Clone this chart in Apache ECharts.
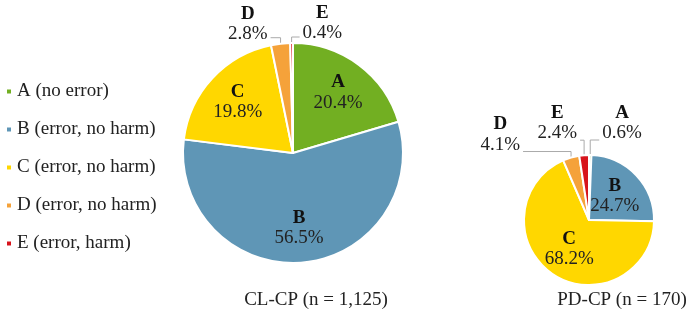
<!DOCTYPE html>
<html>
<head>
<meta charset="utf-8">
<script src="https://cdn.jsdelivr.net/npm/echarts@6/dist/echarts.min.js"></script>
<style>
  html, body { margin: 0; padding: 0; background: #fff; }
  #chart { width: 699px; height: 311px; }
</style>
</head>
<body>
<div id="chart"></div>
<script>
const categories = ['A (no error)', 'B (error, no harm)', 'C (error, no harm)', 'D (error, no harm)', 'E (error, harm)'];
const clcpValues = [20.4, 56.5, 19.8, 2.8, 0.4];
const pdcpValues = [0.6, 24.7, 68.2, 4.1, 2.4];
const colors = ['#72AF22', '#5F96B6', '#FFD700', '#F5A23A', '#D7141C'];
const titles = ['CL-CP (n = 1,125)', 'PD-CP (n = 170)'];

const font = 'Liberation Serif, Times New Roman, serif';

const centers = [[293, 153], [589, 220]];
const radii = [110, 65];
const insideScale = [1.3, 1.0];
// leader line shape for the small outside slices: [side, rise, run, text drop]
const leader = {
    '0-3': [-1, 6, 10, 6],
    '0-4': [1, 6, 8, 6],
    '1-0': [1, 15, 9, 3],
    '1-3': [-1, 6, 48, 3],
    '1-4': [-1, 15, 4, 3]
};

function buildData(values) {
    return values.map((v, i) => {
        const item = {name: categories[i], value: v};
        if (v < 5) {
            item.label = {position: 'outside'};
            item.labelLine = {show: true};
        }
        return item;
    });
}

function makeSeries(values, idx) {
    return {
        type: 'pie',
        center: centers[idx],
        radius: radii[idx],
        startAngle: 90,
        clockwise: true,
        avoidLabelOverlap: false,
        itemStyle: {borderColor: '#fff', borderWidth: 2},
        label: {
            show: true,
            position: 'inside',
            fontFamily: font,
            formatter: p => '{l|' + p.name.charAt(0) + '}\n{v|' + p.value.toFixed(1) + '%}',
            rich: {
                l: {fontFamily: font, fontSize: 19, fontWeight: 'bold', color: '#111', lineHeight: 20, align: 'center'},
                v: {fontFamily: font, fontSize: 19, color: '#222', lineHeight: 20, align: 'center'}
            }
        },
        labelLine: {show: false, length: 10, length2: 8, lineStyle: {color: '#aaa', width: 1}},
        labelLayout: params => {
            const c = centers[idx];
            const r = radii[idx];
            if (values[params.dataIndex] < 5) {
                const [side, rise, run, drop] = leader[idx + '-' + params.dataIndex];
                // point on the rim at the middle of the slice
                let acc = 0;
                for (let i = 0; i < params.dataIndex; i++) acc += values[i];
                const total = values.reduce((a, b) => a + b, 0);
                const ang = (acc + values[params.dataIndex] / 2) / total * Math.PI * 2;
                const p0 = [c[0] + r * Math.sin(ang), c[1] - r * Math.cos(ang)];
                const p1 = [p0[0], p0[1] - rise];
                const p2 = [p0[0] + side * run, p1[1]];
                return {
                    x: p2[0] + side * 3,
                    y: p2[1] + drop,
                    align: side < 0 ? 'right' : 'left',
                    verticalAlign: 'bottom',
                    labelLinePoints: [p0, p1, p2]
                };
            }
            const lr = params.labelRect;
            const lx = lr.x + lr.width / 2 - c[0];
            const ly = lr.y + lr.height / 2 - c[1];
            const k = insideScale[idx] - 1;
            return {dx: lx * k, dy: ly * k};
        },
        data: buildData(values)
    };
}

const chart = echarts.init(document.getElementById('chart'));
chart.setOption({
    animation: false,
    color: colors,
    textStyle: {fontFamily: font},
    legend: {
        orient: 'vertical',
        left: 0,
        top: 77,
        icon: 'rect',
        itemWidth: 6,
        itemHeight: 6,
        itemGap: 19,
        data: categories,
        textStyle: {fontFamily: font, fontSize: 19, color: '#222', lineHeight: 19}
    },
    title: [
        {text: titles[0], left: 311, top: 286, textAlign: 'center',
         textStyle: {fontFamily: font, fontSize: 19, fontWeight: 'normal', color: '#222'}},
        {text: titles[1], left: 617, top: 286, textAlign: 'center',
         textStyle: {fontFamily: font, fontSize: 19, fontWeight: 'normal', color: '#222'}}
    ],
    series: [makeSeries(clcpValues, 0), makeSeries(pdcpValues, 1)]
});
</script>
</body>
</html>
